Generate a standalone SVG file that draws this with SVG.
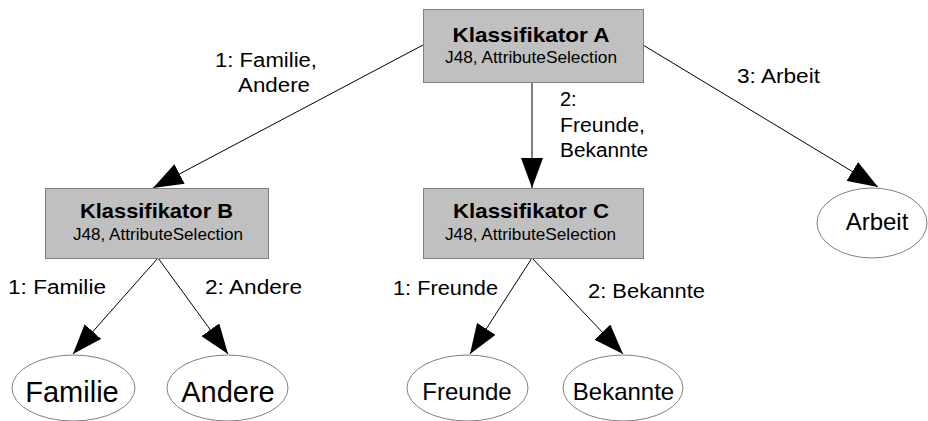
<svg xmlns="http://www.w3.org/2000/svg" width="928" height="421" viewBox="0 0 928 421">
<style>
text{font-family:"Liberation Sans",Arial,sans-serif;fill:#000}
.box{fill:#c0c0c0;stroke:#808080;stroke-width:1}
.leaf{fill:#fff;stroke:#808080;stroke-width:1}
.t{font-weight:bold;font-size:21px;text-anchor:middle}
.s{font-size:17px;text-anchor:middle}
.lbl{font-size:20px}
.big{font-size:29px;text-anchor:middle}
.mid{font-size:24px;text-anchor:middle}
.edge{stroke:#000;stroke-width:1;fill:none;marker-end:url(#ah)}
</style>
<defs>
<marker id="ah" markerUnits="userSpaceOnUse" markerWidth="30" markerHeight="22" refX="30" refY="11" orient="auto">
<path d="M0,0 L30,11 L0,22 Z" fill="#000"/>
</marker>
</defs>
<rect width="928" height="421" fill="#fff"/>
<g id="connectors">
<line class="edge" x1="423" y1="45" x2="153" y2="188"/>
<line class="edge" x1="532" y1="82" x2="532" y2="188"/>
<line class="edge" x1="643" y1="45" x2="878" y2="187"/>
<line class="edge" x1="158" y1="258" x2="73" y2="354"/>
<line class="edge" x1="158" y1="258" x2="228" y2="354"/>
<line class="edge" x1="532" y1="258" x2="470" y2="354"/>
<line class="edge" x1="532" y1="258" x2="623" y2="354"/>
<text class="lbl" x="215" y="67" textLength="102" lengthAdjust="spacingAndGlyphs">1: Familie,</text>
<text class="lbl" x="238" y="92" textLength="72" lengthAdjust="spacingAndGlyphs">Andere</text>
<text class="lbl" x="560" y="106">2:</text>
<text class="lbl" x="560" y="132" textLength="85" lengthAdjust="spacingAndGlyphs">Freunde,</text>
<text class="lbl" x="560" y="157" textLength="88" lengthAdjust="spacingAndGlyphs">Bekannte</text>
<text class="lbl" x="737" y="83" textLength="83" lengthAdjust="spacingAndGlyphs">3: Arbeit</text>
<text class="lbl" x="8" y="294" textLength="98" lengthAdjust="spacingAndGlyphs">1: Familie</text>
<text class="lbl" x="205" y="294" textLength="97" lengthAdjust="spacingAndGlyphs">2: Andere</text>
<text class="lbl" x="393" y="295" textLength="105" lengthAdjust="spacingAndGlyphs">1: Freunde</text>
<text class="lbl" x="588" y="298" textLength="117" lengthAdjust="spacingAndGlyphs">2: Bekannte</text>
</g>
<g id="nodeA">
<rect class="box" x="423.5" y="9.5" width="220" height="73"/>
<text class="t" x="531" y="42" textLength="157" lengthAdjust="spacingAndGlyphs">Klassifikator A</text>
<text class="s" x="531" y="63" textLength="172" lengthAdjust="spacingAndGlyphs">J48, AttributeSelection</text>
</g>
<g id="nodeB">
<rect class="box" x="45.5" y="188.5" width="223" height="70"/>
<text class="t" x="156.5" y="218" textLength="153" lengthAdjust="spacingAndGlyphs">Klassifikator B</text>
<text class="s" x="158" y="240" textLength="170" lengthAdjust="spacingAndGlyphs">J48, AttributeSelection</text>
</g>
<g id="nodeC">
<rect class="box" x="423.5" y="188.5" width="220" height="70"/>
<text class="t" x="531" y="218" textLength="156" lengthAdjust="spacingAndGlyphs">Klassifikator C</text>
<text class="s" x="530.5" y="240" textLength="171" lengthAdjust="spacingAndGlyphs">J48, AttributeSelection</text>
</g>
<g id="leafArbeit">
<ellipse class="leaf" cx="872" cy="223" rx="55" ry="35"/>
<text class="mid" x="877" y="230">Arbeit</text>
</g>
<g id="leafFamilie">
<ellipse class="leaf" cx="73.5" cy="388" rx="61.5" ry="33"/>
<text class="big" x="72" y="402">Familie</text>
</g>
<g id="leafAndere">
<ellipse class="leaf" cx="227.5" cy="388" rx="60.5" ry="33"/>
<text class="big" x="228" y="402">Andere</text>
</g>
<g id="leafFreunde">
<ellipse class="leaf" cx="467.5" cy="388" rx="60.5" ry="33"/>
<text class="mid" x="467" y="400">Freunde</text>
</g>
<g id="leafBekannte">
<ellipse class="leaf" cx="623" cy="388" rx="60" ry="33"/>
<text class="mid" x="623.5" y="400">Bekannte</text>
</g>
</svg>
